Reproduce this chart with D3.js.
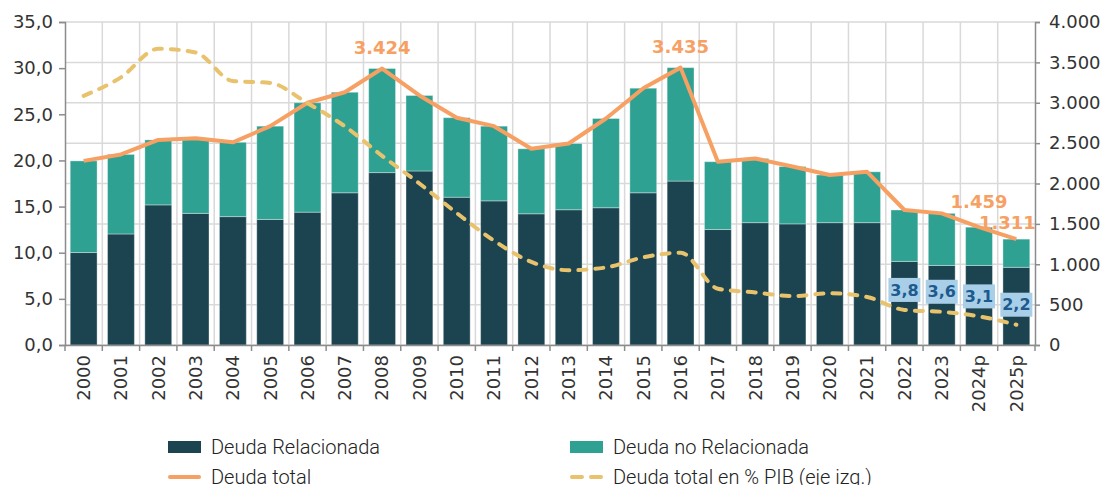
<!DOCTYPE html>
<html>
<head>
<meta charset="utf-8">
<script src="https://cdn.jsdelivr.net/npm/d3@7/dist/d3.min.js"></script>
<style>
  body { margin: 0; background: #fff; }
  svg text { font-family: 'DejaVu Sans', sans-serif; }
</style>
</head>
<body>
<svg id="chart" width="1106" height="485"></svg>
<script>
// DATA
const years = ['2000', '2001', '2002', '2003', '2004', '2005', '2006', '2007', '2008', '2009',
    '2010', '2011', '2012', '2013', '2014', '2015', '2016', '2017', '2018', '2019',
    '2020', '2021', '2022', '2023', '2024p', '2025p'];
const deudaRelacionada = [1145, 1375, 1735, 1630, 1590, 1555, 1645, 1885, 2135, 2155,
    1830, 1785, 1625, 1675, 1700, 1885, 2030, 1430, 1515, 1500,
    1515, 1515, 1035, 985, 985, 962];
const deudaNoRelacionada = [1135, 985, 805, 920, 920, 1155, 1355, 1245, 1289, 935,
    985, 925, 805, 820, 1105, 1295, 1405, 840, 795, 710,
    590, 630, 637, 645, 474, 349];
const deudaTotal = [2280, 2360, 2540, 2560, 2510, 2710, 3000, 3130, 3424, 3090,
    2815, 2710, 2430, 2495, 2805, 3180, 3435, 2270, 2310, 2210,
    2105, 2145, 1672, 1630, 1459, 1311];
const deudaPIB = [27.0, 29.0, 32.1, 31.7, 28.6, 28.4, 26.2, 23.7, 20.5, 17.5,
    14.3, 11.3, 9.0, 8.1, 8.4, 9.5, 10.0, 6.1, 5.7, 5.3,
    5.6, 5.2, 3.8, 3.6, 3.1, 2.2];
const leftTicks = [0, 5, 10, 15, 20, 25, 30, 35];
const rightTicks = [0, 500, 1000, 1500, 2000, 2500, 3000, 3500, 4000];
const totalLabels = ['2008', '2016', '2024p', '2025p'];
const pibLabels = ['2022', '2023', '2024p', '2025p'];

// colors
const darkColor = '#1c4450';
const tealColor = '#2ea192';
const orangeColor = '#f7a063';
const yellowColor = '#e8c26d';
const gridColor = '#d9d9d9';
const axisColor = '#8c8c8c';
const boxColor = '#a9cfe8';
const boxText = '#1d5a8e';

const margin = { top: 22, right: 71, bottom: 140, left: 65 };
const width = 1106 - margin.left - margin.right;
const height = 485 - margin.top - margin.bottom;

const svg = d3.select('#chart');
const g = svg.append('g').attr('transform', `translate(${margin.left},${margin.top})`);

const x = d3.scaleBand().domain(years).range([0, width]).padding(0);
const yLeft = d3.scaleLinear().domain([0, 35]).range([height, 0]);
const yRight = d3.scaleLinear().domain([0, 4000]).range([height, 0]);
const cx = d => x(d) + x.bandwidth() / 2;

const locale = d3.formatLocale({ decimal: ',', thousands: '.', grouping: [3], currency: ['', ''] });
const fmtThousands = locale.format(',');
const fmtOne = locale.format('.1f');

// gridlines
g.append('g')
    .selectAll('line')
    .data(rightTicks)
    .enter()
    .append('line')
    .attr('x1', 0).attr('x2', width)
    .attr('y1', d => yRight(d)).attr('y2', d => yRight(d))
    .attr('stroke', gridColor).attr('stroke-width', 1.5);

g.append('g')
    .selectAll('line')
    .data(years.slice(1))
    .enter()
    .append('line')
    .attr('x1', d => x(d)).attr('x2', d => x(d))
    .attr('y1', 0).attr('y2', height)
    .attr('stroke', gridColor).attr('stroke-width', 1.5);

// stacked bars
const rows = years.map((y, i) => ({ year: y, rel: deudaRelacionada[i], noRel: deudaNoRelacionada[i] }));
const stack = d3.stack().keys(['rel', 'noRel'])(rows);
const barColors = { rel: darkColor, noRel: tealColor };
const barW = x.bandwidth() * 0.72;

g.selectAll('.series')
    .data(stack)
    .enter()
    .append('g')
    .attr('fill', d => barColors[d.key])
    .selectAll('rect')
    .data(d => d)
    .enter()
    .append('rect')
    .attr('x', d => cx(d.data.year) - barW / 2)
    .attr('width', barW)
    .attr('y', d => yRight(d[1]))
    .attr('height', d => yRight(d[0]) - yRight(d[1]))
    .attr('stroke', 'rgba(255,255,255,0.35)')
    .attr('stroke-width', 1);

// axes
const axisLeft = g.append('g')
    .call(d3.axisLeft(yLeft).tickValues(leftTicks).tickFormat(fmtOne).tickSize(6).tickPadding(6));
const axisRight = g.append('g')
    .attr('transform', `translate(${width},0)`)
    .call(d3.axisRight(yRight).tickValues(rightTicks).tickFormat(fmtThousands).tickSize(5).tickPadding(9));
const axisBottom = g.append('g')
    .attr('transform', `translate(0,${height})`)
    .call(d3.axisBottom(x).tickSize(0).tickPadding(10));

[axisLeft, axisRight, axisBottom].forEach(a => {
    a.select('.domain').attr('stroke', axisColor).attr('stroke-width', 1.5);
    a.selectAll('.tick line').attr('stroke', axisColor).attr('stroke-width', 1.5);
    a.selectAll('text').style('font-size', '18px').style('fill', '#333');
});
axisBottom.selectAll('text')
    .attr('transform', 'rotate(-90)')
    .attr('text-anchor', 'end')
    .attr('x', -10)
    .attr('y', 0)
    .attr('dy', '0.35em');

// bottom tick marks at band boundaries
axisBottom.append('g')
    .selectAll('line')
    .data(years.concat(['end']))
    .enter()
    .append('line')
    .attr('x1', (d, i) => i * x.step()).attr('x2', (d, i) => i * x.step())
    .attr('y1', 0).attr('y2', 6)
    .attr('stroke', axisColor).attr('stroke-width', 1.5);

// lines
const totalLine = d3.line()
    .x((d, i) => cx(years[i]))
    .y(d => yRight(d));

g.append('path')
    .attr('d', totalLine(deudaTotal))
    .attr('fill', 'none')
    .attr('stroke', orangeColor)
    .attr('stroke-width', 4)
    .attr('stroke-linejoin', 'round');

const pibLine = d3.line()
    .x((d, i) => cx(years[i]))
    .y(d => yLeft(d))
    .curve(d3.curveMonotoneX);

g.append('path')
    .attr('d', pibLine(deudaPIB))
    .attr('fill', 'none')
    .attr('stroke', yellowColor)
    .attr('stroke-width', 4)
    .attr('stroke-linecap', 'round')
    .attr('stroke-dasharray', '8,9');

// total labels
const totalOffsets = { '2008': [0, -21], '2016': [0, -21], '2024p': [0, -25], '2025p': [-9, -16] };
g.selectAll('.total-label')
    .data(totalLabels)
    .enter()
    .append('text')
    .attr('x', d => cx(d) + totalOffsets[d][0])
    .attr('y', d => yRight(deudaTotal[years.indexOf(d)]) + totalOffsets[d][1])
    .attr('text-anchor', 'middle')
    .attr('dy', '0.35em')
    .style('font-size', '18px')
    .style('font-weight', 'bold')
    .style('fill', orangeColor)
    .text(d => fmtThousands(deudaTotal[years.indexOf(d)]));

// % PIB labels in boxes
const pibGroup = g.selectAll('.pib-label')
    .data(pibLabels)
    .enter()
    .append('g')
    .attr('transform', d => `translate(${cx(d)},${yLeft(deudaPIB[years.indexOf(d)]) - 20})`);

pibGroup.append('rect')
    .attr('x', -16).attr('y', -12)
    .attr('width', 32).attr('height', 24)
    .attr('fill', boxColor);

pibGroup.append('text')
    .attr('text-anchor', 'middle')
    .attr('dy', '0.35em')
    .style('font-size', '16px')
    .style('font-weight', 'bold')
    .style('fill', boxText)
    .text(d => fmtOne(deudaPIB[years.indexOf(d)]));

// legend
const legend = svg.append('g');
const legendItems = [
    { label: 'Deuda Relacionada', type: 'rect', color: darkColor, x: 168, y: 447 },
    { label: 'Deuda no Relacionada', type: 'rect', color: tealColor, x: 570, y: 447 },
    { label: 'Deuda total', type: 'line', color: orangeColor, x: 168, y: 477 },
    { label: 'Deuda total en % PIB (eje izq.)', type: 'dash', color: yellowColor, x: 570, y: 477 }
];
legendItems.forEach(item => {
    const li = legend.append('g').attr('transform', `translate(${item.x},${item.y})`);
    if (item.type === 'rect') {
        li.append('rect').attr('x', 0).attr('y', -6).attr('width', 33).attr('height', 12).attr('fill', item.color);
    } else {
        li.append('line')
            .attr('x1', 2).attr('x2', 31).attr('y1', 0).attr('y2', 0)
            .attr('stroke', item.color).attr('stroke-width', 4)
            .attr('stroke-linecap', 'round')
            .attr('stroke-dasharray', item.type === 'dash' ? '10,9' : null);
    }
    li.append('text')
        .attr('x', 43).attr('dy', '0.35em')
        .style('font-family', 'Roboto, sans-serif')
        .style('font-size', '20px')
        .style('font-weight', 300)
        .style('fill', '#222')
        .text(item.label);
});
</script>
</body>
</html>
